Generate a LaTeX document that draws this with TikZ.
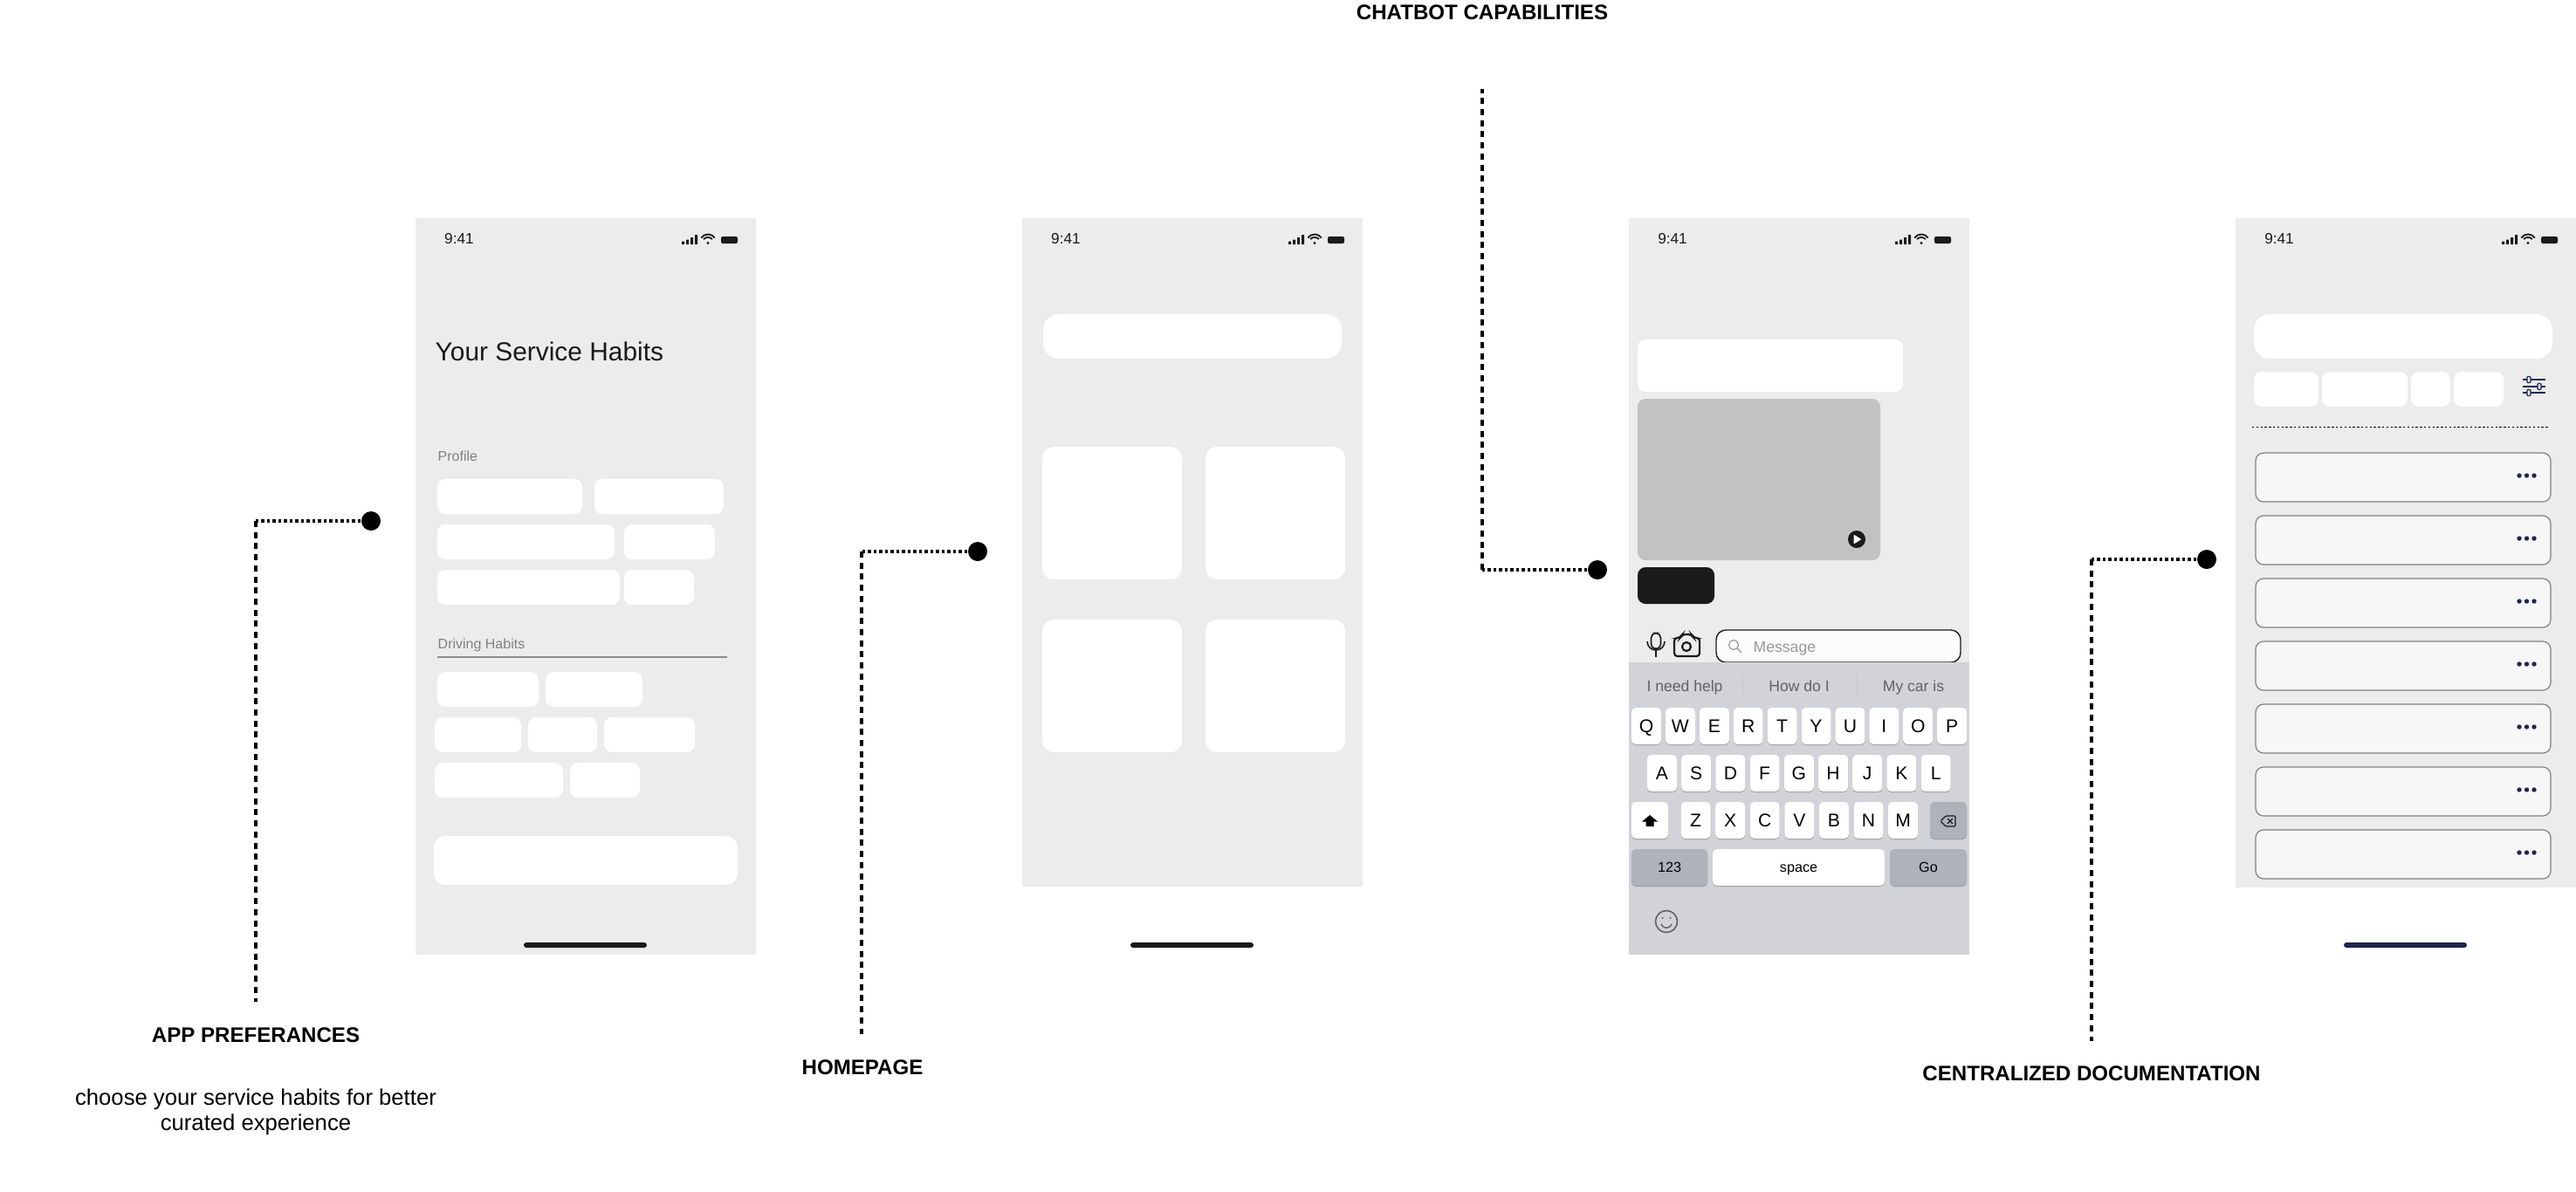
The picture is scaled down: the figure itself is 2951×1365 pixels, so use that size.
\documentclass[tikz,border=0pt]{standalone}
\usepackage{fontspec}
\setmainfont{Liberation Sans}
\definecolor{screen}{HTML}{ECECEC}
\definecolor{ink}{HTML}{1A1A1A}
\definecolor{navy}{HTML}{1E2550}
\definecolor{kbd}{HTML}{D1D3D8}
\definecolor{keyalt}{HTML}{ADB2BB}
\definecolor{keyedge}{HTML}{9A9B9E}
\tikzset{
  chip/.style={fill=white,rounded corners=0.09cm},
  card/.style={fill=white,rounded corners=0.13cm},
  pill/.style={fill=white,rounded corners=0.18cm},
  rowcard/.style={fill=black!3,draw=black!50,line width=0.012cm,rounded corners=0.09cm},
  homebar/.style={fill=ink,rounded corners=0.03cm},
  hotspot/.style={circle,fill=black,inner sep=0pt,minimum size=0.22cm},
  leaderh/.style={line width=0.035cm,dash pattern=on 0.035cm off 0.03cm},
  leaderv/.style={line width=0.04cm,dash pattern=on 0.07cm off 0.057cm},
  caption/.style={font=\bfseries\fontsize{6.85}{8}\selectfont,inner sep=0pt,anchor=base},
  note/.style={font=\fontsize{7.3}{8.25}\selectfont,inner sep=0pt,align=center},
  clock/.style={font=\fontsize{4.9}{6}\selectfont,text=ink,inner sep=0pt,anchor=base},
  hint/.style={font=\fontsize{4.55}{6}\selectfont,text=black!50,inner sep=0pt,anchor=base west},
  keycap/.style={fill=white,inner sep=0pt,rounded corners=0.05cm,minimum height=0.42cm,minimum width=0.34cm,
    font=\fontsize{6}{7}\selectfont,text height=4.3pt,text depth=0pt,
    preaction={fill=keyedge,transform canvas={yshift=-0.01cm}}},
  keywide/.style={keycap,font=\fontsize{4.6}{6}\selectfont,text height=3.3pt},
  statusicons/.pic={
    \fill[ink,rounded corners=0.005cm] (305,26.5) rectangle (308,30);
    \fill[ink,rounded corners=0.005cm] (310,24.5) rectangle (313,30);
    \fill[ink,rounded corners=0.005cm] (315,22) rectangle (318,30);
    \fill[ink,rounded corners=0.005cm] (320,19) rectangle (323,30);
    \draw[ink,line width=0.018cm] (330,24) arc[start angle=225,end angle=315,radius=7];
    \draw[ink,line width=0.018cm] (327.2,22.5) arc[start angle=215,end angle=325,radius=9.5];
    \fill[ink] (335,28.5) circle (1.6);
    \fill[ink,rounded corners=0.02cm] (350,21) rectangle (369,29);
  }
}
\begin{document}
\begin{tikzpicture}[x=0.01cm,y=-0.01cm]
\useasboundingbox (0,0) rectangle (2951,1365);
\clip (0,0) rectangle (2951,1365);
\fill[screen] (476,250) rectangle (866,1094);
\fill[screen] (1171,250) rectangle (1561,1016);
\fill[screen] (1866,250) rectangle (2256,1094);
\fill[screen] (2561,250) rectangle (2951,1017);
\foreach \fx in {476,1171,1866,2561}{
  \path (\fx,250) pic {statusicons};
  \node[clock] (time\fx) at (\fx+50,279) {9:41};
}
\fill[homebar] (600,1080) rectangle (741,1086);
\fill[homebar] (1295,1080) rectangle (1436,1086);
\fill[homebar] (1994,1080) rectangle (2128,1086);
\fill[homebar,navy] (2685,1080) rectangle (2826,1086);

\node[font=\fontsize{8.5}{10}\selectfont,text=ink,inner sep=0pt,anchor=base west] (title) at (498,413) {Your Service Habits};
\node[hint] (profile) at (501,528) {Profile};
\fill[chip] (501,549) rectangle (667,589);
\fill[chip] (681,549) rectangle (829,589);
\fill[chip] (501,601) rectangle (704,641);
\fill[chip] (715,601) rectangle (819,641);
\fill[chip] (501,653) rectangle (710,693);
\fill[chip] (715,653) rectangle (795,693);
\node[hint] (habits) at (501,743) {Driving Habits};
\draw[black!45,line width=0.012cm] (501,753) -- (833,753);
\fill[chip] (501,770) rectangle (617,810);
\fill[chip] (625,770) rectangle (736,810);
\fill[chip] (498,822) rectangle (597,862);
\fill[chip] (605,822) rectangle (684,862);
\fill[chip] (692,822) rectangle (796,862);
\fill[chip] (498,874) rectangle (645,914);
\fill[chip] (653,874) rectangle (733,914);
\fill[card] (497,958) rectangle (845,1014);

\fill[pill] (1195,360) rectangle (1537,411);
\fill[card] (1194,512) rectangle (1354,664);
\fill[card] (1381,512) rectangle (1541,664);
\fill[card] (1194,710) rectangle (1354,862);
\fill[card] (1381,710) rectangle (1541,862);

\fill[chip] (1876,389) rectangle (2180,449);
\fill[chip,black!24] (1876,457) rectangle (2154,642);
\fill[chip,ink] (1876,650) rectangle (1964,692);
\fill[ink] (2127,618) circle (10);
\fill[white,rounded corners=0.01cm] (2123.5,612.5) -- (2132.5,618) -- (2123.5,623.5) -- cycle;
\draw[ink,line width=0.016cm,rounded corners=0.055cm] (1891.5,725.5) rectangle (1902.5,743.5);
\draw[ink,line width=0.016cm] (1887,735) arc[start angle=180,end angle=0,radius=10] (1897,745) -- (1897,753);
\draw[ink,line width=0.022cm,rounded corners=0.035cm] (1918,731) -- (1925,731) -- (1927,727) -- (1938,727) -- (1940,731) -- (1947,731) -- (1947,752) -- (1918,752) -- cycle;
\draw[ink,line width=0.022cm] (1932,741) circle (5);
\draw[ink,fill=black!1,line width=0.014cm,rounded corners=0.11cm] (1966,722) rectangle (2246,759);
\draw[black!40,line width=0.012cm] (1986,739) circle (5.5) (1990,743) -- (1995,748);
\node[inner sep=0pt,anchor=base west,text=black!40,font=\fontsize{5}{6}\selectfont] (message) at (2008,747) {Message};
\fill[kbd] (1866,759) rectangle (2256,1094);
\node[inner sep=0pt,anchor=base,text=black!62,font=\fontsize{5}{6}\selectfont] (sug1) at (1930,792) {I need help};
\node[inner sep=0pt,anchor=base,text=black!62,font=\fontsize{5}{6}\selectfont] (sug2) at (2061,792) {How do I};
\node[inner sep=0pt,anchor=base,text=black!62,font=\fontsize{5}{6}\selectfont] (sug3) at (2192,792) {My car is};
\draw[black!22,line width=0.008cm] (1996,774) -- (1996,798) (2127,774) -- (2127,798);
\foreach \lett [count=\i from 0] in {Q,W,E,R,T,Y,U,I,O,P}
  \node[keycap] (key\lett) at ({1886+38.9*\i},832) {\lett};
\foreach \lett [count=\i from 0] in {A,S,D,F,G,H,J,K,L}
  \node[keycap] (key\lett) at ({1904+39.2*\i},886) {\lett};
\foreach \lett [count=\i from 0] in {Z,X,C,V,B,N,M}
  \node[keycap] (key\lett) at ({1942.5+39.6*\i},940) {\lett};
\node[keycap,minimum width=0.42cm] (shift) at (1890,940) {};
\fill[black] (1890,934) -- (1899,941.5) -- (1894.5,941.5) -- (1894.5,947) -- (1885.5,947) -- (1885.5,941.5) -- (1881,941.5) -- cycle;
\node[keycap,fill=keyalt,minimum width=0.42cm] (del) at (2232,940) {};
\draw[ink,line width=0.012cm,rounded corners=0.012cm] (2223,941) -- (2229,935) -- (2240,935) -- (2240,947) -- (2229,947) -- cycle;
\draw[ink,line width=0.012cm] (2231,938) -- (2237,944) (2237,938) -- (2231,944);
\node[keywide,fill=keyalt,minimum width=0.87cm] (num) at (1912.5,994) {123};
\node[keywide,minimum width=1.97cm] (space) at (2060.5,994) {space};
\node[keywide,fill=keyalt,minimum width=0.88cm] (go) at (2209,994) {Go};
\draw[black!62,line width=0.016cm] (1909,1056) circle (12.5);
\fill[black!62] (1904.5,1052) circle (1.2) (1913.5,1052) circle (1.2);
\draw[black!62,line width=0.014cm] (1903,1059) arc[start angle=160,end angle=20,radius=6.4];

\fill[pill] (2582,360) rectangle (2924,411);
\fill[chip] (2582,426) rectangle (2656,466);
\fill[chip] (2660,426) rectangle (2758,466);
\fill[chip] (2762,426) rectangle (2807,466);
\fill[chip] (2811,426) rectangle (2868,466);
\draw[navy,line width=0.012cm] (2890,435) -- (2916,435) (2890,443) -- (2916,443) (2890,450) -- (2916,450);
\draw[navy,fill=screen,line width=0.012cm,rounded corners=0.01cm] (2895,431.5) rectangle (2899,438.5) (2907,439.5) rectangle (2911,446.5) (2895,446.5) rectangle (2899,453.5);
\draw[black,line width=0.008cm,dash pattern=on 0.024cm off 0.024cm] (2580,489) -- (2921,489);
\foreach \cy in {519,591,663,735,807,879,951}{
  \draw[rowcard] (2584,\cy) rectangle (2922,\cy+56);
  \fill[navy] (2886,\cy+26) circle (2.7) (2894.5,\cy+26) circle (2.7) (2903,\cy+26) circle (2.7);
}

\node[hotspot] (spot1) at (425,597) {};
\coordinate (bend1) at (293,597);
\coordinate (end1) at (293,1148);
\draw[leaderh] (spot1) -- (bend1);
\draw[leaderv] (bend1) -- (end1);
\node[caption] (cap1) at (293,1194) {APP PREFERANCES};
\node[note] (note1) at (293,1274) {choose your service habits for better\\curated experience};
\node[hotspot] (spot2) at (1120,632) {};
\coordinate (bend2) at (987,632);
\coordinate (end2) at (987,1185);
\draw[leaderh] (spot2) -- (bend2);
\draw[leaderv] (bend2) -- (end2);
\node[caption] (cap2) at (988,1231) {HOMEPAGE};
\node[hotspot] (spot3) at (1830,653) {};
\coordinate (bend3) at (1698,653);
\coordinate (end3) at (1698,102);
\draw[leaderh] (spot3) -- (bend3);
\draw[leaderv] (bend3) -- (end3);
\node[caption] (cap3) at (1698,22) {CHATBOT CAPABILITIES};
\node[hotspot] (spot4) at (2528,641) {};
\coordinate (bend4) at (2396,641);
\coordinate (end4) at (2396,1193);
\draw[leaderh] (spot4) -- (bend4);
\draw[leaderv] (bend4) -- (end4);
\node[caption] (cap4) at (2396,1238) {CENTRALIZED DOCUMENTATION};
\end{tikzpicture}
\end{document}
